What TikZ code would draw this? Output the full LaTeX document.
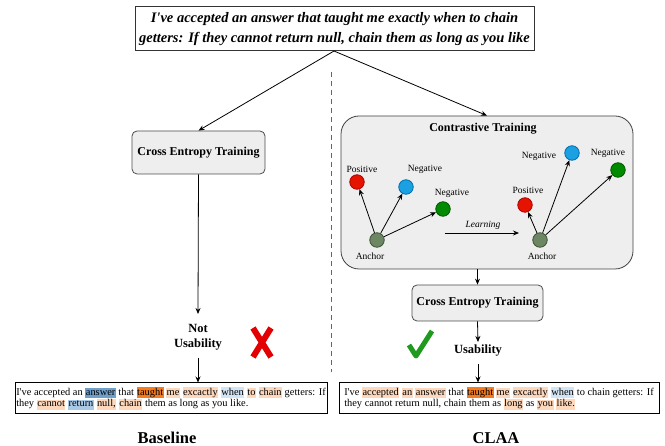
\documentclass[tikz,border=0pt]{standalone}
\usepackage{fontspec}
\setmainfont{Liberation Serif}
\usetikzlibrary{arrows.meta}
\definecolor{boxfill}{HTML}{EEEEEE}
\definecolor{hlorange}{HTML}{F47B20}
\definecolor{hlpeach}{HTML}{FDD8BC}
\definecolor{hldblue}{HTML}{6FA0CC}
\definecolor{hlmblue}{HTML}{A9C9E6}
\definecolor{hllblue}{HTML}{D3E4F3}
\definecolor{cred}{HTML}{E51400}
\definecolor{credd}{HTML}{B20000}
\definecolor{cblue}{HTML}{1BA1E2}
\definecolor{cblued}{HTML}{006EAF}
\definecolor{cgreen}{HTML}{008A00}
\definecolor{cgreend}{HTML}{005700}
\definecolor{canchor}{HTML}{6D8764}
\definecolor{canchord}{HTML}{3A5431}
\definecolor{xred}{HTML}{E30000}
\definecolor{tickgreen}{HTML}{1F9A1F}
\newcommand\hl[2]{{\setlength{\fboxsep}{0.5pt}\colorbox{#1}{\vphantom{Ig}#2}}}
\begin{document}
\begin{tikzpicture}[x=1pt,y=-1pt,
  arr/.style={-{Stealth[length=6pt,width=5pt]},line width=0.8pt},
  cebox/.style={draw=black!70,fill=boxfill,rounded corners=5pt,line width=0.8pt,font=\bfseries\fontsize{12}{14}\selectfont,inner sep=0pt},
  txtbox/.style={draw=black,line width=1pt,inner sep=0pt,align=left,font=\fontsize{10.4}{11.8}\selectfont},
  dot/.style={circle,minimum size=14.5pt,inner sep=0pt,line width=0.8pt},
  lbl/.style={font=\fontsize{9.5}{11}\selectfont,inner sep=0pt},
  blbl/.style={font=\bfseries\fontsize{12.5}{15}\selectfont,inner sep=0pt,align=center}]
\useasboundingbox (0,0) rectangle (665,446);
% top box
\node[draw=black!80,line width=1pt,minimum width=399pt,minimum height=44pt,inner sep=0pt,align=center,
  font=\bfseries\itshape\fontsize{14.5}{19.5}\selectfont] (top) at (334.5,29)
  {I\textquotesingle ve accepted an answer that taught me exactly when to chain\\getters: If they cannot return null, chain them as long as you like};
\coordinate (apex) at (334,51);
% dashed divider
\coordinate (d1) at (331,72);
\coordinate (d2) at (331,372);
\draw[black!60,line width=0.8pt,dash pattern=on 5pt off 4pt] (d1) -- (d2);
% left column
\node[cebox,minimum width=133pt,minimum height=43pt] (ceL) at (198.5,152.5) {Cross Entropy Training};
\node[blbl] (notu) at (198,337) {Not\\Usability};
\node[txtbox,minimum width=312pt,minimum height=31pt] (boxL) at (171,398.5)
 {I\textquotesingle ve accepted an \hl{hldblue}{answer} that \hl{hlorange}{taught} \hl{hlpeach}{me} \hl{hlpeach}{excactly} \hl{hllblue}{when} \hl{hlpeach}{to} \hl{hlpeach}{chain} getters: If\\
  they \hl{hlpeach}{cannot} \hl{hlmblue}{return} \hl{hlpeach}{null,} \hl{hlpeach}{chain} them as long as you like.};
\node[font=\bfseries\fontsize{16.5}{19}\selectfont,inner sep=0pt] (base) at (167,438) {Baseline};
% red X
\coordinate (x1) at (253,328);
\coordinate (x2) at (271,357);
\coordinate (x3) at (271,328);
\coordinate (x4) at (253,357);
\draw[xred,line width=6pt] (x1) -- (x2) (x3) -- (x4);
% right column
\node[draw=black!75,fill=boxfill,rounded corners=18pt,line width=0.8pt,minimum width=292pt,minimum height=153pt] (ct) at (487,192.5) {};
\node[font=\bfseries\fontsize{12}{14}\selectfont,inner sep=0pt] (cttitle) at (483,129) {Contrastive Training};
% left cluster
\node[dot,fill=cred,draw=credd] (p1) at (357,182) {};
\node[dot,fill=cblue,draw=cblued] (n1) at (406,187) {};
\node[dot,fill=cgreen,draw=cgreend] (g1) at (443,209) {};
\node[dot,fill=canchor,draw=canchord] (a1) at (377,240) {};
\node[lbl] at (362,169) {Positive};
\node[lbl] at (425,169) {Negative};
\node[lbl] at (452,193) {Negative};
\node[lbl] at (370,256) {Anchor};
\draw[arr] (a1) -- (p1);
\draw[arr] (a1) -- (n1);
\draw[arr] (a1) -- (g1);
% learning arrow
\coordinate (l1) at (445,233);
\coordinate (l2) at (519,233);
\draw[arr] (l1) -- (l2);
\node[lbl,font=\itshape\fontsize{9.5}{11}\selectfont] at (483,225) {Learning};
% right cluster
\node[dot,fill=cred,draw=credd] (p2) at (525,205) {};
\node[dot,fill=cblue,draw=cblued] (n2) at (572,153) {};
\node[dot,fill=cgreen,draw=cgreend] (g2) at (618,170) {};
\node[dot,fill=canchor,draw=canchord] (a2) at (540,240) {};
\node[lbl] at (528,190) {Positive};
\node[lbl] at (539,156) {Negative};
\node[lbl] at (608,153) {Negative};
\node[lbl] at (542,256) {Anchor};
\draw[arr] (a2) -- (p2);
\draw[arr] (a2) -- (n2);
\draw[arr] (a2) -- (g2);
% right lower
\node[cebox,minimum width=131pt,minimum height=36pt] (ceR) at (477.5,303) {Cross Entropy Training};
\node[blbl] (use) at (478,351) {Usability};
\node[txtbox,minimum width=320pt,minimum height=31pt] (boxR) at (499,398.5)
 {I\textquotesingle ve \hl{hlpeach}{accepted} \hl{hlpeach}{an} \hl{hlpeach}{answer} that \hl{hlorange}{taught} \hl{hlpeach}{me} \hl{hlpeach}{excactly} \hl{hllblue}{when} to chain getters: If\\
  they cannot return null, chain them as \hl{hlpeach}{long} as \hl{hlpeach}{you} \hl{hlpeach}{like.}};
\node[font=\bfseries\fontsize{16.5}{19}\selectfont,inner sep=0pt] (claa) at (496,438) {CLAA};
% check mark
\coordinate (t1) at (409,345);
\coordinate (t2) at (416,356);
\coordinate (t3) at (432,331);
\draw[tickgreen,line width=5pt,line join=round] (t1) -- (t2) -- (t3);
% connectors
\draw[arr] (apex) -- (ceL.north);
\draw[arr] (apex) -- (ct.north);
\draw[arr] (ceL.south) -- (198,314);
\draw[arr] (198,358) -- (boxL.north -| 198,0);
\draw[arr] (ct.south -| ceR.north) -- (ceR.north);
\draw[arr] (ceR.south) -- (478,342);
\draw[arr] (478,364) -- (boxR.north -| 478,0);
\end{tikzpicture}
\end{document}
